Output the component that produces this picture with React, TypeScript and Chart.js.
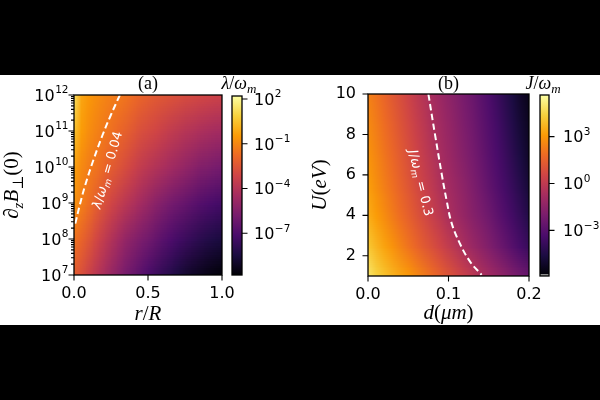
import React, { useEffect, useRef } from 'react';
import { Chart, registerables } from 'chart.js';

Chart.register(...registerables);

// ---------------- Panel (a) data ----------------
const aR = [0, 0.05, 0.1, 0.15, 0.2, 0.25, 0.3, 0.35, 0.4, 0.45, 0.5, 0.55, 0.6, 0.65, 0.7, 0.75, 0.8, 0.85, 0.9, 0.95, 1];
const aB = [1e12, 1e11, 1e10, 1e9, 1e8, 1e7];
// log10(lambda/omega_m), rows follow aB, columns follow aR
const aLogLambda = [
  [1.36, -0.21, -0.57, -0.82, -1.06, -1.24, -1.36, -1.54, -1.78, -2.02, -2.2, -2.38, -2.5, -2.62, -2.75, -2.87, -2.96, -3.05, -3.13, -3.23, -3.29],
  [0.51, -0.45, -0.85, -1.12, -1.38, -1.62, -1.9, -2.14, -2.44, -2.75, -2.93, -3.11, -3.35, -3.59, -3.77, -3.95, -4.1, -4.25, -4.37, -4.49, -4.55],
  [-0.33, -0.94, -1.3, -1.54, -1.9, -2.26, -2.56, -2.87, -3.23, -3.59, -3.83, -4.07, -4.31, -4.55, -4.79, -5.04, -5.28, -5.52, -5.64, -5.82, -5.94],
  [-0.69, -1.24, -1.66, -2.2, -2.68, -3.11, -3.47, -3.83, -4.19, -4.55, -4.92, -5.28, -5.58, -5.88, -6.12, -6.36, -6.6, -6.85, -7.03, -7.21, -7.33],
  [-1.54, -2.02, -2.5, -3.05, -3.59, -4.07, -4.55, -5.04, -5.4, -5.7, -6.0, -6.36, -6.72, -7.03, -7.33, -7.57, -7.81, -8.05, -8.23, -8.41, -8.53],
  [-2.26, -2.75, -3.29, -3.83, -4.37, -4.92, -5.4, -5.88, -6.3, -6.72, -7.15, -7.51, -7.87, -8.17, -8.53, -8.83, -9.08, -9.26, -9.44, -9.62, -9.74],
];
const aContourR = [0.31, 0.249, 0.193, 0.131, 0.076, 0.039, 0.0068];
const aContourB = [1e12, 2.78e11, 7.74e10, 1.56e10, 3.16e9, 8.8e8, 2.45e8];
const aXTicks = [0, 0.5, 1];
const aYTicks = [1e7, 1e8, 1e9, 1e10, 1e11, 1e12];
const aCbTicks = [1e2, 1e-1, 1e-4, 1e-7];
const aCbLogMin = -9.8;
const aCbLogMax = 2.2;

// ---------------- Panel (b) data ----------------
const bD = [0, 0.01, 0.02, 0.03, 0.04, 0.05, 0.06, 0.07, 0.08, 0.09, 0.1, 0.11, 0.12, 0.13, 0.14, 0.15, 0.16, 0.17, 0.18, 0.19, 0.2];
const bU = [10, 8.5, 7, 5.5, 4, 2.5, 1];
// log10(J/omega_m), rows follow bU, columns follow bD
const bLogJ = [
  [2.41, 2.06, 1.66, 1.25, 0.85, 0.44, 0.03, -0.34, -0.72, -1.07, -1.42, -1.76, -2.11, -2.46, -2.87, -3.27, -3.74, -4.2, -4.66, -5.13, -5.48],
  [2.64, 2.3, 1.89, 1.48, 1.08, 0.67, 0.27, -0.14, -0.55, -0.89, -1.24, -1.59, -1.94, -2.29, -2.69, -3.1, -3.5, -3.97, -4.43, -4.9, -5.3],
  [2.88, 2.53, 2.12, 1.72, 1.31, 0.9, 0.5, 0.09, -0.31, -0.72, -1.07, -1.42, -1.76, -2.11, -2.52, -2.92, -3.33, -3.74, -4.2, -4.66, -5.13],
  [3.17, 2.76, 2.35, 1.95, 1.54, 1.14, 0.73, 0.32, -0.08, -0.49, -0.84, -1.18, -1.53, -1.88, -2.29, -2.69, -3.1, -3.5, -3.91, -4.37, -4.84],
  [3.51, 3.11, 2.7, 2.3, 1.89, 1.48, 1.08, 0.67, 0.27, -0.14, -0.6, -0.95, -1.3, -1.65, -1.98, -2.34, -2.75, -3.16, -3.56, -3.97, -4.43],
  [4.15, 3.69, 3.28, 2.88, 2.47, 2.06, 1.66, 1.25, 0.9, 0.5, 0.09, -0.31, -0.72, -1.13, -1.47, -1.82, -2.23, -2.63, -3.04, -3.45, -3.85],
  [4.96, 4.44, 4.04, 3.69, 3.34, 3.05, 2.64, 2.3, 1.89, 1.48, 1.08, 0.67, 0.32, -0.08, -0.49, -0.84, -1.18, -1.53, -1.88, -2.23, -2.52],
];
const bContourD = [0.075, 0.0833, 0.0917, 0.0975, 0.1037, 0.1136, 0.1266, 0.1411];
const bContourU = [10, 7.98, 6.01, 4.77, 3.64, 2.65, 1.72, 1.06];
const bXTicks = [0, 0.1, 0.2];
const bYTicks = [2, 4, 6, 8, 10];
const bCbTicks = [1e3, 1, 1e-3];
const bCbLogMin = -5.92;
const bCbLogMax = 5.66;

// ---------------- helpers ----------------
const INFERNO = [
  [0, 0, 4], [27, 12, 65], [74, 12, 107], [120, 28, 109], [165, 44, 96],
  [207, 68, 70], [237, 105, 37], [251, 155, 6], [247, 209, 61], [252, 255, 164],
];
function inferno(t: number): number[] {
  const c = Math.max(0, Math.min(1, t)) * 9;
  const i = Math.min(8, Math.floor(c));
  const u = c - i;
  const a = INFERNO[i], b = INFERNO[i + 1];
  return [a[0] + (b[0] - a[0]) * u, a[1] + (b[1] - a[1]) * u, a[2] + (b[2] - a[2]) * u];
}

const TICK_FONT = { family: '"DejaVu Sans", sans-serif', size: 16 };
const SERIF = '"Liberation Serif", "DejaVu Serif", serif';
const SANS = '"DejaVu Sans", sans-serif';

type Part = { t: string; it?: boolean; sub?: boolean };
function drawRich(ctx: CanvasRenderingContext2D, parts: Part[], x: number, y: number, size: number, family: string, rot = 0, dy = 0, color = '#000') {
  ctx.save();
  ctx.translate(x, y);
  ctx.rotate(rot);
  const fontOf = (p: Part) => `${p.it ? 'italic ' : ''}${p.sub ? Math.round(size * 0.7) : size}px ${family}`;
  let total = 0;
  const widths = parts.map((p) => {
    ctx.font = fontOf(p);
    const w = ctx.measureText(p.t).width;
    total += w;
    return w;
  });
  let cx = -total / 2;
  ctx.fillStyle = color;
  ctx.textAlign = 'left';
  ctx.textBaseline = 'alphabetic';
  parts.forEach((p, i) => {
    ctx.font = fontOf(p);
    ctx.fillText(p.t, cx, dy + (p.sub ? size * 0.22 : 0));
    cx += widths[i];
  });
  ctx.restore();
}

// "10^n" tick label, vertically centred on the tick at y
function drawPow10(ctx: CanvasRenderingContext2D, value: number, x: number, y: number, align: 'left' | 'right') {
  const e = Math.round(Math.log10(value));
  const expText = e < 0 ? '\u2212' + String(-e) : String(e);
  ctx.save();
  ctx.fillStyle = '#000';
  ctx.textBaseline = 'alphabetic';
  ctx.textAlign = 'left';
  ctx.font = `16px ${SANS}`;
  const wb = ctx.measureText('10').width;
  ctx.font = `10.5px ${SANS}`;
  const we = ctx.measureText(expText).width;
  const x0 = align === 'left' ? x : x - wb - we - 0.5;
  const base = y + 5.8;
  ctx.font = `16px ${SANS}`;
  ctx.fillText('10', x0, base);
  ctx.font = `10.5px ${SANS}`;
  ctx.fillText(expText, x0 + wb + 0.5, base - 7.4);
  ctx.restore();
}

function heatPlugin(grid: number[][], xNodes: number[], yNodes: number[], lmin: number, lmax: number) {
  let off: HTMLCanvasElement | null = null;
  return {
    id: 'heat',
    beforeDatasetsDraw(chart: any) {
      const nx = xNodes.length, ny = yNodes.length;
      if (!off) {
        off = document.createElement('canvas');
        off.width = nx;
        off.height = ny;
        const octx = off.getContext('2d')!;
        const img = octx.createImageData(nx, ny);
        grid.forEach((row, j) => row.forEach((v, i) => {
          const c = inferno((v - lmin) / (lmax - lmin));
          const k = (j * nx + i) * 4;
          img.data[k] = c[0]; img.data[k + 1] = c[1]; img.data[k + 2] = c[2]; img.data[k + 3] = 255;
        }));
        octx.putImageData(img, 0, 0);
      }
      const { ctx, chartArea: ca, scales } = chart;
      const x0 = scales.x.getPixelForValue(xNodes[0]);
      const x1 = scales.x.getPixelForValue(xNodes[nx - 1]);
      const y0 = scales.y.getPixelForValue(yNodes[0]);
      const y1 = scales.y.getPixelForValue(yNodes[ny - 1]);
      ctx.save();
      ctx.beginPath();
      ctx.rect(ca.left, ca.top, ca.right - ca.left, ca.bottom - ca.top);
      ctx.clip();
      ctx.imageSmoothingEnabled = true;
      ctx.imageSmoothingQuality = 'low';
      ctx.drawImage(off, 0.5, 0.5, nx - 1, ny - 1, x0, y0, x1 - x0, y1 - y0);
      ctx.restore();
    },
  };
}

function frameTicks(chart: any, xTicks: number[], yTicks: number[], yMinor: number[]) {
  const { ctx, chartArea: ca, scales } = chart;
  ctx.save();
  ctx.strokeStyle = '#000';
  ctx.lineWidth = 1.1;
  ctx.beginPath();
  xTicks.forEach((v) => {
    const p = scales.x.getPixelForValue(v);
    ctx.moveTo(p, ca.bottom);
    ctx.lineTo(p, ca.bottom + 5.5);
  });
  yTicks.forEach((v) => {
    const p = scales.y.getPixelForValue(v);
    ctx.moveTo(ca.left - 5.5, p);
    ctx.lineTo(ca.left, p);
  });
  yMinor.forEach((v) => {
    const p = scales.y.getPixelForValue(v);
    ctx.moveTo(ca.left - 3, p);
    ctx.lineTo(ca.left, p);
  });
  ctx.stroke();
  ctx.lineWidth = 1.3;
  ctx.strokeRect(ca.left, ca.top, ca.right - ca.left, ca.bottom - ca.top);
  ctx.restore();
}

const aMinor: number[] = [];
[7, 8, 9, 10, 11].forEach((n) => [2, 3, 4, 5, 6, 7, 8, 9].forEach((k) => aMinor.push(k * Math.pow(10, n))));

function baseOptions(padding: any) {
  return {
    animation: false,
    responsive: false,
    maintainAspectRatio: false,
    events: [],
    layout: { padding },
    plugins: { legend: { display: false }, tooltip: { enabled: false }, title: { display: false } },
  } as any;
}

function makePanelA(canvas: HTMLCanvasElement) {
  const opts = baseOptions({ left: 14, right: 378, top: 95, bottom: 85 });
  opts.scales = {
    x: {
      type: 'linear', min: 0, max: 1, bounds: 'data',
      afterBuildTicks: (s: any) => { s.ticks = aXTicks.map((v) => ({ value: v })); },
      afterFit: (s: any) => { s.height = 40; },
      ticks: { callback: (v: any) => Number(v).toFixed(1), font: TICK_FONT, color: '#000', padding: 9, maxRotation: 0, autoSkip: false },
      grid: { display: false, drawTicks: false }, border: { display: false },
    },
    y: {
      type: 'logarithmic', min: 1e7, max: 1e12, bounds: 'data',
      afterBuildTicks: (s: any) => { s.ticks = aYTicks.map((v) => ({ value: v })); },
      afterFit: (s: any) => { s.width = 60; },
      ticks: { display: false },
      grid: { display: false, drawTicks: false }, border: { display: false },
    },
  };
  return new Chart(canvas, {
    type: 'scatter',
    data: {
      datasets: [{
        data: aContourR.map((r, i) => ({ x: r, y: aContourB[i] })),
        showLine: true, borderColor: '#ffffff', borderWidth: 2, borderDash: [6.5, 3.5],
        pointRadius: 0, tension: 0.4, fill: false,
      } as any],
    },
    options: opts,
    plugins: [
      heatPlugin(aLogLambda, aR, aB, aCbLogMin, aCbLogMax),
      {
        id: 'decorA',
        afterDraw(chart: any) {
          const { ctx, chartArea: ca, scales } = chart;
          frameTicks(chart, aXTicks, aYTicks, aMinor);
          aYTicks.forEach((v) => drawPow10(ctx, v, ca.left - 5.5, scales.y.getPixelForValue(v), 'right'));
          const mid = (ca.left + ca.right) / 2;
          drawRich(ctx, [{ t: '(a)' }], mid, 89, 18, SERIF);
          drawRich(ctx, [{ t: 'r', it: true }, { t: '/' }, { t: 'R', it: true }], mid, 320, 21, SERIF);
          drawRich(ctx, [{ t: '∂', it: true }, { t: 'z', it: true, sub: true }, { t: 'B', it: true }, { t: '⊥', sub: true }, { t: '(0)' }],
            18, (ca.top + ca.bottom) / 2, 21, SERIF, -Math.PI / 2);
          const lx = scales.x.getPixelForValue(0.223);
          const ly = scales.y.getPixelForValue(8.3e9);
          drawRich(ctx, [{ t: 'λ', it: true }, { t: '/' }, { t: 'ω', it: true }, { t: 'm', it: true, sub: true }, { t: ' = 0.04' }],
            lx, ly, 13, SANS, (-74 * Math.PI) / 180, 4.5, '#fff');
        },
      },
    ],
  } as any);
}

function makePanelB(canvas: HTMLCanvasElement) {
  const opts = baseOptions({ left: 308, right: 71, top: 94, bottom: 84 });
  opts.scales = {
    x: {
      type: 'linear', min: 0, max: 0.2, bounds: 'data',
      afterBuildTicks: (s: any) => { s.ticks = bXTicks.map((v) => ({ value: v })); },
      afterFit: (s: any) => { s.height = 40; },
      ticks: { callback: (v: any) => Number(v).toFixed(1), font: TICK_FONT, color: '#000', padding: 9, maxRotation: 0, autoSkip: false },
      grid: { display: false, drawTicks: false }, border: { display: false },
    },
    y: {
      type: 'linear', min: 1, max: 10, bounds: 'data',
      afterBuildTicks: (s: any) => { s.ticks = bYTicks.map((v) => ({ value: v })); },
      afterFit: (s: any) => { s.width = 60; },
      ticks: { callback: (v: any) => String(v), font: TICK_FONT, color: '#000', padding: 12, autoSkip: false },
      grid: { display: false, drawTicks: false }, border: { display: false },
    },
  };
  return new Chart(canvas, {
    type: 'scatter',
    data: {
      datasets: [{
        data: bContourD.map((d, i) => ({ x: d, y: bContourU[i] })),
        showLine: true, borderColor: '#ffffff', borderWidth: 2, borderDash: [6.5, 3.5],
        pointRadius: 0, tension: 0.4, fill: false,
      } as any],
    },
    options: opts,
    plugins: [
      heatPlugin(bLogJ, bD, bU, bCbLogMin, bCbLogMax),
      {
        id: 'decorB',
        afterDraw(chart: any) {
          const { ctx, chartArea: ca, scales } = chart;
          frameTicks(chart, bXTicks, bYTicks, []);
          const mid = (ca.left + ca.right) / 2;
          drawRich(ctx, [{ t: '(b)' }], mid, 89, 18, SERIF);
          drawRich(ctx, [{ t: 'd', it: true }, { t: '(' }, { t: 'μm', it: true }, { t: ')' }], mid, 319, 21, SERIF);
          drawRich(ctx, [{ t: 'U', it: true }, { t: '(' }, { t: 'eV', it: true }, { t: ')' }],
            326, (ca.top + ca.bottom) / 2, 21, SERIF, -Math.PI / 2);
          const lx = scales.x.getPixelForValue(0.066);
          const ly = scales.y.getPixelForValue(5.61);
          drawRich(ctx, [{ t: 'J', it: true }, { t: '/' }, { t: 'ω', it: true }, { t: 'm', it: true, sub: true }, { t: ' = 0.3' }],
            lx, ly, 13, SANS, (76 * Math.PI) / 180, 4.5, '#fff');
        },
      },
    ],
  } as any);
}

function makeColorbar(canvas: HTMLCanvasElement, padding: any, lmin: number, lmax: number, ticks: number[], labelPad: number,
  label: Part[], labelX: number, grayBottom: boolean) {
  const opts = baseOptions(padding);
  opts.scales = {
    x: { type: 'linear', display: false, min: 0, max: 1 },
    y: {
      type: 'logarithmic', position: 'right', min: Math.pow(10, lmin), max: Math.pow(10, lmax), bounds: 'data',
      afterBuildTicks: (s: any) => { s.ticks = ticks.map((v) => ({ value: v })); },
      afterFit: (s: any) => { s.width = 60; },
      ticks: { display: false },
      grid: { display: false, drawTicks: false }, border: { display: false },
    },
  };
  return new Chart(canvas, {
    type: 'scatter',
    data: { datasets: [] },
    options: opts,
    plugins: [{
      id: 'cbar',
      afterDraw(chart: any) {
        const { ctx, chartArea: ca, scales } = chart;
        const g = ctx.createLinearGradient(0, ca.bottom, 0, ca.top);
        INFERNO.forEach((c, i) => g.addColorStop(i / 9, `rgb(${c[0]},${c[1]},${c[2]})`));
        ctx.save();
        ctx.fillStyle = g;
        ctx.fillRect(ca.left, ca.top, ca.right - ca.left, ca.bottom - ca.top);
        if (grayBottom) {
          ctx.fillStyle = '#8c8c8c';
          ctx.fillRect(ca.left, ca.bottom - 2, ca.right - ca.left, 2);
        }
        ctx.strokeStyle = '#000';
        ctx.lineWidth = 1.1;
        ctx.beginPath();
        ticks.forEach((v) => {
          const p = scales.y.getPixelForValue(v);
          ctx.moveTo(ca.right, p);
          ctx.lineTo(ca.right + 5.5, p);
        });
        ctx.stroke();
        ctx.lineWidth = 1.3;
        ctx.strokeRect(ca.left, ca.top, ca.right - ca.left, ca.bottom - ca.top);
        ctx.restore();
        ticks.forEach((v) => drawPow10(ctx, v, ca.right + labelPad, scales.y.getPixelForValue(v), 'left'));
        drawRich(ctx, label, labelX, 89, 18, SERIF);
      },
    }],
  } as any);
}

export default function App() {
  const r1 = useRef<HTMLCanvasElement>(null);
  const r2 = useRef<HTMLCanvasElement>(null);
  const r3 = useRef<HTMLCanvasElement>(null);
  const r4 = useRef<HTMLCanvasElement>(null);

  useEffect(() => {
    const charts = [
      makePanelA(r1.current!),
      makeColorbar(r2.current!, { left: 232, right: 600 - 242 - 60, top: 96, bottom: 125 }, aCbLogMin, aCbLogMax, aCbTicks, 12,
        [{ t: 'λ', it: true }, { t: '/' }, { t: 'ω', it: true }, { t: 'm', it: true, sub: true }], 239, false),
      makePanelB(r3.current!),
      makeColorbar(r4.current!, { left: 540, right: 600 - 549 - 60, top: 95, bottom: 124 }, bCbLogMin, bCbLogMax, bCbTicks, 14,
        [{ t: 'J', it: true }, { t: '/' }, { t: 'ω', it: true }, { t: 'm', it: true, sub: true }], 543, true),
    ];
    return () => charts.forEach((c) => c.destroy());
  }, []);

  const cs: React.CSSProperties = { position: 'absolute', left: 0, top: 0 };
  return (
    <div style={{ position: 'fixed', left: 0, top: 0, width: 600, height: 400, background: '#000', overflow: 'hidden' }}>
      <div style={{ position: 'absolute', left: 0, top: 75, width: 600, height: 250, background: '#fff' }} />
      <canvas ref={r1} width={600} height={400} style={cs} />
      <canvas ref={r2} width={600} height={400} style={cs} />
      <canvas ref={r3} width={600} height={400} style={cs} />
      <canvas ref={r4} width={600} height={400} style={cs} />
    </div>
  );
}
